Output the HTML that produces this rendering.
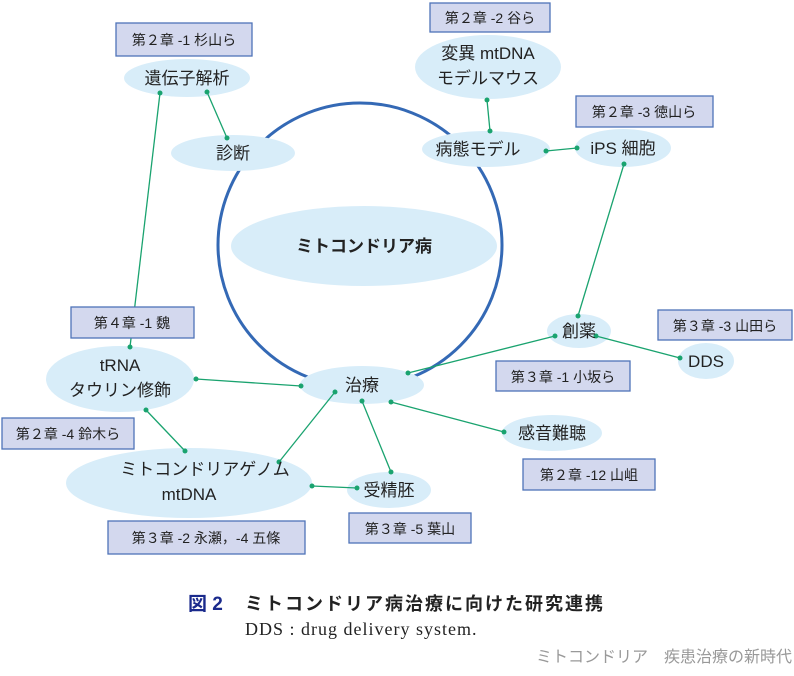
<!DOCTYPE html>
<html><head><meta charset="utf-8"><style>
body{margin:0;background:#fff;width:794px;height:676px;overflow:hidden}
svg{display:block}
.t{font-family:"Liberation Sans","Noto Sans CJK JP",sans-serif;fill:#222;text-anchor:middle}
</style></head><body>
<svg width="794" height="676" viewBox="0 0 794 676">
<g fill="#d8edf9">
<ellipse cx="364" cy="246" rx="133" ry="40"/>
</g>
<circle cx="360" cy="245" r="142" fill="none" stroke="#3469b5" stroke-width="3"/>
<g fill="#d8edf9">
<ellipse cx="187" cy="78" rx="63" ry="19"/>
<ellipse cx="233" cy="153" rx="62" ry="18"/>
<ellipse cx="488" cy="67" rx="73" ry="32"/>
<ellipse cx="486" cy="149" rx="64" ry="18"/>
<ellipse cx="623" cy="148" rx="48" ry="19"/>
<ellipse cx="579" cy="331" rx="32" ry="17"/>
<ellipse cx="706" cy="361" rx="28" ry="18"/>
<ellipse cx="120" cy="379" rx="74" ry="33"/>
<ellipse cx="362" cy="385" rx="62" ry="19"/>
<ellipse cx="552" cy="433" rx="50" ry="18"/>
<ellipse cx="189" cy="483" rx="123" ry="35"/>
<ellipse cx="389" cy="490" rx="42" ry="18"/>
</g>
<g stroke="#1aa36f" stroke-width="1.3" fill="#1aa36f">
<line x1="160" y1="93" x2="130" y2="347"/>
<line x1="207" y1="92" x2="227" y2="138"/>
<line x1="487" y1="100" x2="490" y2="131"/>
<line x1="546" y1="151" x2="577" y2="148"/>
<line x1="624" y1="164" x2="578" y2="316"/>
<line x1="596" y1="336" x2="680" y2="358"/>
<line x1="555" y1="336" x2="408" y2="373"/>
<line x1="196" y1="379" x2="301" y2="386"/>
<line x1="146" y1="410" x2="185" y2="451"/>
<line x1="335" y1="392" x2="279" y2="462"/>
<line x1="362" y1="401" x2="391" y2="472"/>
<line x1="391" y1="402" x2="504" y2="432"/>
<line x1="312" y1="486" x2="357" y2="488"/>
<g stroke="none">
<circle cx="160" cy="93" r="2.5"/><circle cx="207" cy="92" r="2.5"/><circle cx="227" cy="138" r="2.5"/>
<circle cx="487" cy="100" r="2.5"/><circle cx="490" cy="131" r="2.5"/><circle cx="546" cy="151" r="2.5"/><circle cx="577" cy="148" r="2.5"/>
<circle cx="624" cy="164" r="2.5"/><circle cx="578" cy="316" r="2.5"/><circle cx="596" cy="336" r="2.5"/><circle cx="680" cy="358" r="2.5"/>
<circle cx="555" cy="336" r="2.5"/><circle cx="408" cy="373" r="2.5"/><circle cx="196" cy="379" r="2.5"/><circle cx="301" cy="386" r="2.5"/>
<circle cx="146" cy="410" r="2.5"/><circle cx="185" cy="451" r="2.5"/><circle cx="335" cy="392" r="2.5"/><circle cx="279" cy="462" r="2.5"/>
<circle cx="362" cy="401" r="2.5"/><circle cx="391" cy="472" r="2.5"/><circle cx="391" cy="402" r="2.5"/><circle cx="504" cy="432" r="2.5"/>
<circle cx="312" cy="486" r="2.5"/><circle cx="357" cy="488" r="2.5"/><circle cx="130" cy="347" r="2.5"/>
</g></g>
<g fill="#d3d8ee" stroke="#4f73b8" stroke-width="1.3">
<rect x="116" y="23" width="136" height="33"/>
<rect x="430" y="3" width="120" height="29"/>
<rect x="576" y="96" width="137" height="31"/>
<rect x="71" y="307" width="123" height="31"/>
<rect x="658" y="310" width="134" height="30"/>
<rect x="496" y="361" width="134" height="30"/>
<rect x="2" y="418" width="132" height="31"/>
<rect x="523" y="459" width="132" height="31"/>
<rect x="349" y="513" width="122" height="30"/>
<rect x="108" y="521" width="197" height="33"/>
</g>
<g class="t" font-size="14">
<text x="184" y="45">第２章 -1 杉山ら</text>
<text x="490" y="23">第２章 -2 谷ら</text>
<text x="644" y="117">第２章 -3 徳山ら</text>
<text x="132" y="328">第４章 -1 魏</text>
<text x="725" y="331">第３章 -3 山田ら</text>
<text x="563" y="382">第３章 -1 小坂ら</text>
<text x="68" y="439">第２章 -4 鈴木ら</text>
<text x="589" y="480">第２章 -12 山岨</text>
<text x="410" y="534">第３章 -5 葉山</text>
<text x="206" y="543">第３章 -2 永瀬，-4 五條</text>
</g>
<g class="t" font-size="17">
<text x="187" y="84">遺伝子解析</text>
<text x="233" y="159">診断</text>
<text x="488" y="59">変異 mtDNA</text>
<text x="488" y="84">モデルマウス</text>
<text x="478" y="155">病態モデル</text>
<text x="623" y="154">iPS 細胞</text>
<text x="364" y="252" font-weight="bold">ミトコンドリア病</text>
<text x="579" y="337">創薬</text>
<text x="706" y="367">DDS</text>
<text x="120" y="371">tRNA</text>
<text x="120" y="396">タウリン修飾</text>
<text x="362" y="391">治療</text>
<text x="552" y="439">感音難聴</text>
<text x="205" y="475">ミトコンドリアゲノム</text>
<text x="189" y="500">mtDNA</text>
<text x="389" y="496">受精胚</text>
</g>
<text x="188" y="610" font-family="Liberation Sans,Noto Sans CJK JP,sans-serif" font-size="19" font-weight="bold" fill="#1a2a8c">図 2</text>
<text x="245" y="610" font-family="Liberation Sans,Noto Sans CJK JP,sans-serif" font-size="18" letter-spacing="2" font-weight="bold" fill="#222">ミトコンドリア病治療に向けた研究連携</text>
<text x="245" y="635" font-family="Liberation Serif,serif" font-size="18" letter-spacing="1" fill="#222">DDS : drug delivery system.</text>
<text x="792" y="662" text-anchor="end" font-family="Liberation Sans,Noto Sans CJK JP,sans-serif" font-size="16" fill="#999">ミトコンドリア　疾患治療の新時代</text>
</svg>
</body></html>
